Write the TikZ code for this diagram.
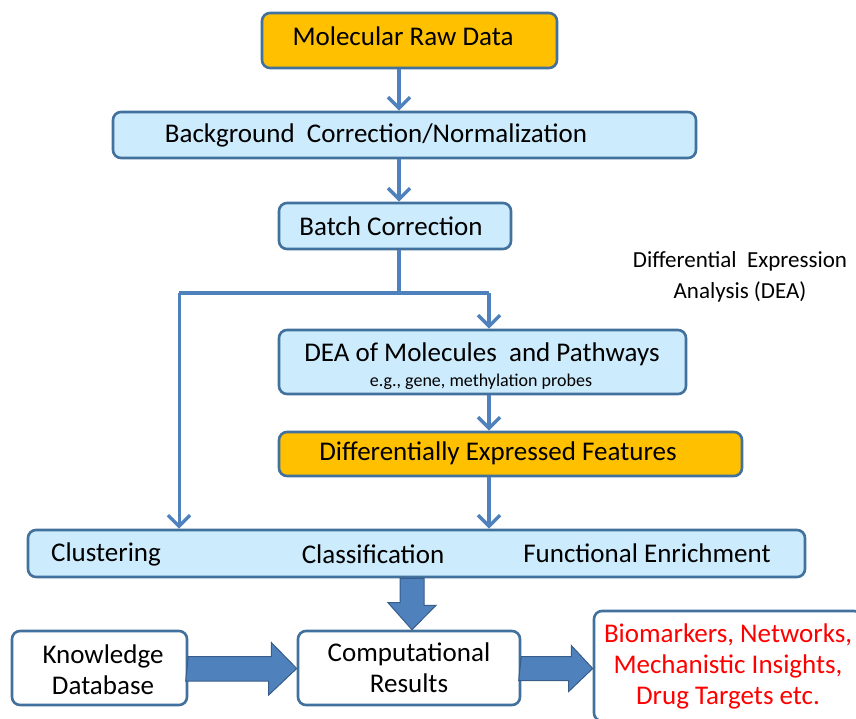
\documentclass[tikz,border=0pt]{standalone}
\usepackage{fontspec}
\setmainfont{Carlito}
\usetikzlibrary{arrows.meta}
\definecolor{bordblue}{HTML}{41719C}
\definecolor{arrblue}{HTML}{4F81BD}
\definecolor{arrdark}{HTML}{385D8A}
\definecolor{lightfill}{HTML}{CCEBFC}
\definecolor{orangefill}{HTML}{FFC000}
\tikzset{
  boxbase/.style={draw=bordblue, line width=2.6pt, rounded corners=8pt},
  bluebox/.style={boxbase, fill=lightfill},
  orangebox/.style={boxbase, fill=orangefill},
  whitebox/.style={boxbase, fill=white},
  flowarrow/.style={draw=arrblue, line width=3.5pt, -{Straight Barb[length=11pt,width=22pt,line width=3.5pt]}},
  blockarrow/.style={fill=arrblue, draw=arrdark, line width=1pt, line join=miter},
  bigtxt/.style={font=\fontsize{27}{31}\selectfont, inner sep=0pt},
  midtxt/.style={font=\fontsize{27}{31}\selectfont, inner sep=0pt, align=center},
}
\begin{document}
\begin{tikzpicture}[x=1pt,y=-1pt]
\useasboundingbox (0,0) rectangle (856,719);
% boxes
\node[orangebox, minimum width=295pt, minimum height=55pt] (raw) at (409.5,40.5) {};
\node[bluebox, minimum width=583pt, minimum height=46pt] (bg) at (404.5,135) {};
\node[bluebox, minimum width=232pt, minimum height=46pt] (batch) at (395,226) {};
\node[bluebox, minimum width=407pt, minimum height=64pt] (dea) at (482.5,362) {};
\node[orangebox, minimum width=463pt, minimum height=44pt] (def) at (510.5,454) {};
\node[bluebox, minimum width=777pt, minimum height=47pt] (bar) at (416.5,553.5) {};
\node[whitebox, minimum width=175pt, minimum height=74pt] (kd) at (99.5,668) {};
\node[whitebox, minimum width=222pt, minimum height=74pt] (cr) at (409,668) {};
\node[whitebox, minimum width=268pt, minimum height=110pt] (bio) at (728,666) {};
% texts
\node[bigtxt] (traw) at (403,36) {Molecular Raw Data};
\node[bigtxt] (tbg) at (376,135) {Background\ \ Correction/Normalization};
\node[bigtxt] (tbatch) at (391,226) {Batch Correction};
\node[bigtxt] (tdea) at (482,354) {DEA of Molecules\ \ and Pathways};
\node[font=\fontsize{18}{20}\selectfont, inner sep=0pt] (tdea2) at (481,382) {e.g., gene, methylation probes};
\node[bigtxt] (tdef) at (498,453) {Differentially Expressed Features};
\node[bigtxt] (tclu) at (106,554) {Clustering};
\node[bigtxt] (tcla) at (373,554) {Classification};
\node[bigtxt] (tfun) at (647,553) {Functional Enrichment};
\node[font=\fontsize{23}{31}\selectfont, inner sep=0pt, align=center] (tdiff) at (740,277) {Differential\ \ Expression\\Analysis (DEA)};
\node[midtxt] (tkd) at (103,670) {Knowledge\\Database};
\node[midtxt] (tcr) at (409,668) {Computational\\Results};
\node[midtxt, text=red] (tbio) at (728,666) {Biomarkers, Networks,\\Mechanistic Insights,\\Drug Targets etc.};
% thin arrows
\coordinate (split) at (399,293);
\coordinate (lft) at (179,293);
\coordinate (rgt) at (489,293);
\draw[flowarrow] (raw.south -| split) -- (bg.north -| split);
\draw[flowarrow] (bg.south -| split) -- (batch.north -| split);
\draw[draw=arrblue, line width=3.5pt] (batch.south -| split) -- (split);
\draw[draw=arrblue, line width=3.5pt] (lft) -- (rgt);
\draw[flowarrow, line width=3pt] (lft) -- (bar.north -| lft);
\draw[flowarrow] (rgt) -- (dea.north -| rgt);
\draw[flowarrow] (dea.south -| rgt) -- (def.north -| rgt);
\draw[flowarrow] (def.south -| rgt) -- (bar.north -| rgt);
% block arrows
\coordinate (dtop) at (412,577);
\draw[blockarrow] (bar.south -| dtop) ++(-12,0) -- ++(24,0) -- ++(0,27) -- ++(12,0) -- (cr.north -| dtop) -- ++(-24,-27) -- ++(12,0) -- cycle;
\coordinate (hy) at (0,668.5);
\draw[blockarrow] (kd.east |- hy) ++(0,-12) -- ++(83,0) -- ++(0,-14) -- (cr.west |- hy) -- ++(-28,26.5) -- ++(0,-14) -- ++(-83,0) -- cycle;
\draw[blockarrow] (cr.east |- hy) ++(0,-12) -- ++(50,0) -- ++(0,-11) -- (bio.west |- hy) -- ++(-24,23) -- ++(0,-11) -- ++(-50,0) -- cycle;
\end{tikzpicture}
\end{document}
